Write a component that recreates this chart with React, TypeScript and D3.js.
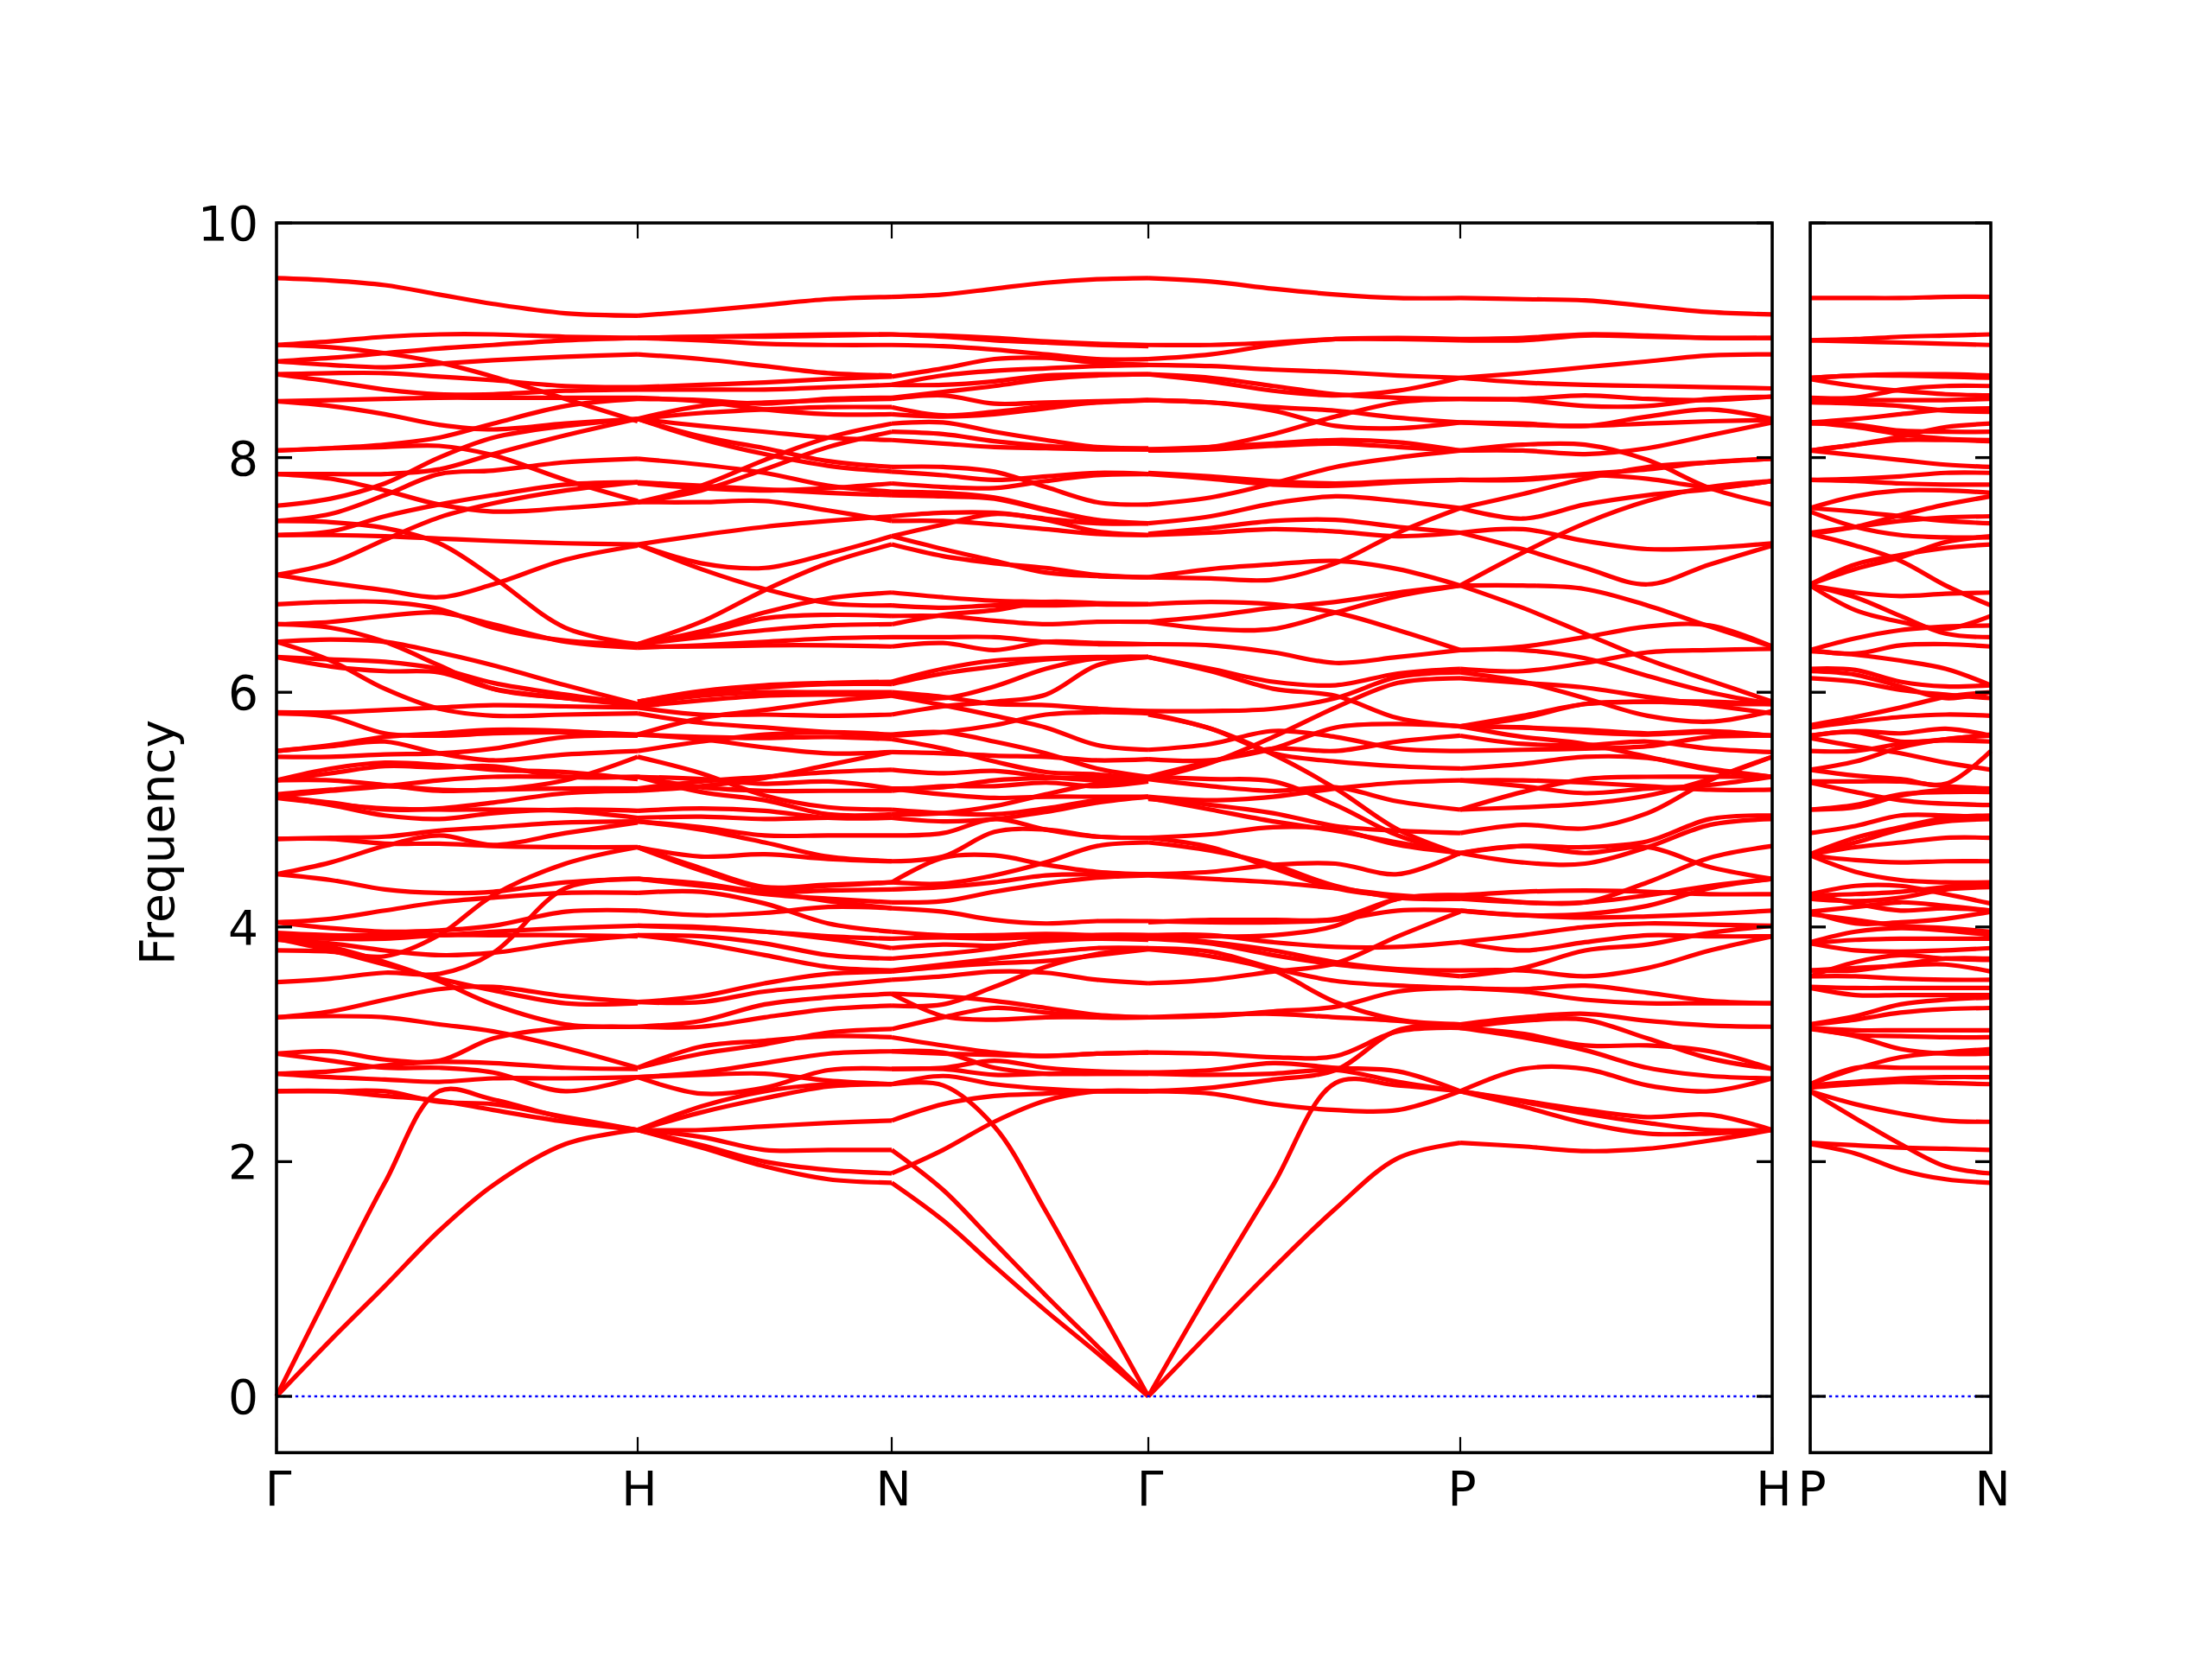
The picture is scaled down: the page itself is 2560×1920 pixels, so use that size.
import * as d3 from "d3";
import React from "react";

// high symmetry points along the path, in path units
const mainTicks = [0, 418, 712, 1009, 1370, 1731];
const mainLabels = ["Γ", "H", "N", "Γ", "P", "H"];
const sideTicks = [0, 209];
const sideLabels = ["P", "N"];
const freqTicks = [0, 2, 4, 6, 8, 10];

// sampling positions inside each path segment
const knotsGH = [0, 0.15, 0.3, 0.45, 0.6, 0.8, 1];
const knotsHN = [0, 0.25, 0.5, 0.75, 1];
const knotsNG = [0, 0.2, 0.4, 0.6, 0.8, 1];
const knotsGP = [0, 0.2, 0.4, 0.6, 0.8, 1];
const knotsPH = [0, 0.2, 0.4, 0.6, 0.8, 1];
const knotsPN = [0, 0.25, 0.5, 0.75, 1];

// phonon branches, Γ -> H
const bandsGH = [
  [9.53, 9.51, 9.47, 9.39, 9.31, 9.23, 9.21],
  [8.96, 8.99, 9.03, 9.05, 9.05, 9.03, 9.02],
  [8.82, 8.85, 8.89, 8.93, 8.96, 9.0, 9.02],
  [8.96, 8.94, 8.89, 8.81, 8.69, 8.5, 8.31],
  [8.82, 8.79, 8.77, 8.8, 8.83, 8.86, 8.88],
  [8.71, 8.72, 8.72, 8.69, 8.66, 8.61, 8.6],
  [8.71, 8.65, 8.58, 8.54, 8.54, 8.57, 8.58],
  [8.48, 8.49, 8.5, 8.51, 8.51, 8.51, 8.51],
  [8.48, 8.44, 8.37, 8.28, 8.24, 8.29, 8.33],
  [8.06, 8.08, 8.11, 8.17, 8.29, 8.44, 8.5],
  [8.06, 8.08, 8.09, 8.1, 8.02, 7.81, 7.63],
  [7.86, 7.86, 7.86, 7.9, 8.03, 8.19, 8.33],
  [7.59, 7.65, 7.78, 8.0, 8.17, 8.27, 8.33],
  [7.46, 7.52, 7.68, 7.86, 7.89, 7.96, 7.99],
  [7.86, 7.82, 7.72, 7.6, 7.54, 7.57, 7.62],
  [7.46, 7.45, 7.4, 7.27, 6.98, 6.55, 6.41],
  [7.34, 7.37, 7.5, 7.6, 7.68, 7.77, 7.79],
  [7.34, 7.34, 7.33, 7.31, 7.29, 7.27, 7.26],
  [7.0, 7.1, 7.3, 7.49, 7.61, 7.72, 7.79],
  [7.0, 6.93, 6.87, 6.81, 6.92, 7.13, 7.25],
  [6.75, 6.77, 6.77, 6.71, 6.55, 6.44, 6.41],
  [6.58, 6.6, 6.65, 6.68, 6.58, 6.43, 6.38],
  [6.43, 6.27, 6.03, 5.86, 5.8, 5.81, 5.82],
  [6.58, 6.55, 6.43, 6.23, 6.03, 5.95, 5.89],
  [6.43, 6.45, 6.43, 6.34, 6.23, 6.06, 5.9],
  [6.3, 6.28, 6.26, 6.2, 6.08, 5.98, 5.9],
  [6.3, 6.22, 6.18, 6.17, 6.03, 5.95, 5.9],
  [5.83, 5.83, 5.85, 5.87, 5.89, 5.88, 5.87],
  [5.82, 5.79, 5.65, 5.63, 5.65, 5.66, 5.64],
  [5.5, 5.55, 5.62, 5.65, 5.68, 5.67, 5.63],
  [5.45, 5.45, 5.47, 5.48, 5.52, 5.62, 5.63],
  [5.5, 5.54, 5.58, 5.48, 5.42, 5.47, 5.5],
  [5.25, 5.35, 5.4, 5.38, 5.34, 5.32, 5.26],
  [5.25, 5.31, 5.37, 5.36, 5.37, 5.28, 5.28],
  [5.13, 5.17, 5.2, 5.17, 5.17, 5.25, 5.45],
  [5.25, 5.25, 5.21, 5.16, 5.17, 5.18, 5.18],
  [5.11, 5.16, 5.2, 5.25, 5.28, 5.28, 5.28],
  [5.11, 5.06, 5.0, 5.01, 5.06, 5.14, 5.16],
  [5.11, 5.04, 4.95, 4.92, 4.97, 5.0, 4.99],
  [5.1, 5.05, 5.01, 5.0, 5.0, 4.99, 4.93],
  [4.75, 4.75, 4.71, 4.71, 4.69, 4.68, 4.68],
  [4.75, 4.76, 4.77, 4.82, 4.85, 4.89, 4.9],
  [4.45, 4.55, 4.69, 4.78, 4.7, 4.8, 4.89],
  [4.45, 4.4, 4.32, 4.29, 4.3, 4.38, 4.41],
  [3.8, 3.79, 3.75, 3.93, 4.27, 4.54, 4.68],
  [3.53, 3.56, 3.61, 3.6, 3.78, 4.33, 4.41],
  [4.04, 4.07, 4.14, 4.21, 4.25, 4.29, 4.29],
  [4.04, 3.99, 3.96, 3.97, 4.01, 4.13, 4.14],
  [3.95, 3.93, 3.93, 3.93, 3.96, 3.99, 4.01],
  [3.92, 3.9, 3.9, 3.93, 3.93, 3.93, 3.92],
  [3.89, 3.86, 3.8, 3.76, 3.78, 3.87, 3.93],
  [3.92, 3.83, 3.7, 3.54, 3.34, 3.17, 3.15],
  [3.9, 3.8, 3.68, 3.56, 3.46, 3.35, 3.35],
  [3.23, 3.28, 3.38, 3.47, 3.49, 3.41, 3.36],
  [3.23, 3.24, 3.23, 3.17, 3.11, 2.97, 2.8],
  [2.92, 2.94, 2.87, 2.86, 3.05, 3.14, 3.15],
  [2.92, 2.86, 2.8, 2.8, 2.76, 2.6, 2.72],
  [2.75, 2.77, 2.82, 2.85, 2.84, 2.8, 2.79],
  [2.75, 2.72, 2.7, 2.68, 2.71, 2.71, 2.72],
  [2.6, 2.6, 2.6, 2.51, 2.49, 2.38, 2.27],
  [2.6, 2.6, 2.56, 2.52, 2.44, 2.34, 2.27],
  [0, 0.92, 1.82, 2.6, 2.53, 2.37, 2.27],
  [0, 0.48, 0.94, 1.41, 1.8, 2.15, 2.27],
];

// H -> N
const bandsHN = [
  [9.21, 9.25, 9.3, 9.35, 9.37],
  [9.02, 9.03, 9.04, 9.05, 9.05],
  [9.02, 9.0, 8.97, 8.96, 8.96],
  [9.02, 9.03, 9.03, 9.04, 9.05],
  [8.88, 8.84, 8.78, 8.72, 8.7],
  [8.6, 8.62, 8.64, 8.67, 8.69],
  [8.58, 8.58, 8.58, 8.6, 8.62],
  [8.51, 8.48, 8.41, 8.37, 8.37],
  [8.5, 8.49, 8.46, 8.5, 8.51],
  [8.33, 8.44, 8.47, 8.49, 8.5],
  [8.33, 8.38, 8.41, 8.43, 8.43],
  [8.33, 8.18, 8.08, 7.97, 7.92],
  [8.33, 8.16, 8.03, 7.93, 7.88],
  [8.33, 8.27, 8.22, 8.17, 8.15],
  [7.62, 7.76, 7.98, 8.17, 8.29],
  [7.62, 7.72, 7.9, 8.09, 8.22],
  [7.99, 7.94, 7.87, 7.76, 7.71],
  [7.79, 7.76, 7.73, 7.7, 7.68],
  [7.78, 7.74, 7.72, 7.74, 7.78],
  [7.62, 7.62, 7.63, 7.55, 7.46],
  [7.26, 7.34, 7.41, 7.46, 7.5],
  [7.26, 7.1, 7.06, 7.18, 7.33],
  [7.26, 7.05, 6.88, 6.76, 6.74],
  [6.41, 6.6, 6.87, 7.1, 7.26],
  [6.41, 6.52, 6.68, 6.8, 6.85],
  [6.38, 6.4, 6.43, 6.46, 6.47],
  [6.41, 6.5, 6.63, 6.66, 6.65],
  [6.41, 6.47, 6.53, 6.57, 6.58],
  [6.39, 6.39, 6.4, 6.4, 6.39],
  [5.92, 6.01, 6.06, 6.08, 6.09],
  [5.92, 6.0, 6.04, 6.07, 6.07],
  [5.9, 5.97, 6.0, 6.0, 6.0],
  [5.88, 5.93, 5.97, 5.98, 5.98],
  [5.87, 5.81, 5.81, 5.8, 5.81],
  [5.82, 5.74, 5.7, 5.66, 5.63],
  [5.64, 5.78, 5.85, 5.92, 5.97],
  [5.64, 5.6, 5.53, 5.48, 5.49],
  [5.64, 5.62, 5.61, 5.62, 5.6],
  [5.5, 5.58, 5.64, 5.66, 5.64],
  [5.45, 5.31, 5.12, 5.02, 5.0],
  [5.28, 5.26, 5.22, 5.24, 5.18],
  [5.28, 5.19, 5.16, 5.16, 5.16],
  [5.28, 5.15, 5.08, 4.96, 4.96],
  [5.18, 5.24, 5.28, 5.32, 5.34],
  [5.16, 5.2, 5.27, 5.38, 5.49],
  [4.99, 5.01, 4.99, 4.93, 4.93],
  [4.93, 4.94, 4.92, 4.93, 4.93],
  [4.9, 4.85, 4.78, 4.78, 4.78],
  [4.9, 4.83, 4.72, 4.6, 4.56],
  [4.68, 4.6, 4.62, 4.58, 4.56],
  [4.68, 4.5, 4.34, 4.36, 4.38],
  [4.68, 4.48, 4.33, 4.35, 4.38],
  [4.41, 4.36, 4.28, 4.24, 4.21],
  [4.41, 4.35, 4.3, 4.22, 4.16],
  [4.41, 4.37, 4.3, 4.31, 4.32],
  [4.29, 4.3, 4.2, 4.03, 3.96],
  [4.14, 4.1, 4.12, 4.17, 4.16],
  [4.01, 4.0, 3.96, 3.9, 3.82],
  [4.01, 3.99, 3.96, 3.92, 3.9],
  [3.93, 3.92, 3.86, 3.76, 3.73],
  [3.93, 3.86, 3.76, 3.66, 3.63],
  [3.36, 3.41, 3.52, 3.6, 3.62],
  [3.36, 3.36, 3.45, 3.5, 3.55],
  [3.15, 3.2, 3.34, 3.4, 3.43],
  [3.15, 3.15, 3.23, 3.3, 3.33],
  [2.8, 2.98, 3.03, 3.07, 3.06],
  [2.8, 2.92, 3.0, 3.1, 3.13],
  [2.72, 2.58, 2.63, 2.78, 2.79],
  [2.72, 2.76, 2.84, 2.92, 2.94],
  [2.72, 2.74, 2.75, 2.69, 2.66],
  [2.27, 2.47, 2.6, 2.66, 2.66],
  [2.27, 2.42, 2.54, 2.64, 2.66],
  [2.27, 2.27, 2.3, 2.33, 2.35],
  [2.27, 2.21, 2.1, 2.1, 2.1],
  [2.27, 2.14, 2.0, 1.93, 1.9],
  [2.27, 2.12, 1.96, 1.85, 1.82],
];

// N -> Γ
const bandsNG = [
  [9.37, 9.39, 9.44, 9.49, 9.52, 9.53],
  [9.05, 9.04, 9.02, 8.99, 8.97, 8.96],
  [9.05, 9.03, 9.0, 8.98, 8.96, 8.95],
  [8.96, 8.95, 8.92, 8.88, 8.84, 8.84],
  [8.69, 8.76, 8.84, 8.85, 8.81, 8.79],
  [8.62, 8.7, 8.74, 8.76, 8.78, 8.79],
  [8.62, 8.62, 8.65, 8.7, 8.71, 8.71],
  [8.51, 8.56, 8.61, 8.67, 8.7, 8.71],
  [8.5, 8.53, 8.46, 8.47, 8.48, 8.49],
  [8.43, 8.36, 8.39, 8.44, 8.47, 8.49],
  [8.37, 8.35, 8.37, 8.42, 8.47, 8.49],
  [8.29, 8.3, 8.22, 8.15, 8.09, 8.08],
  [8.22, 8.2, 8.14, 8.1, 8.08, 8.07],
  [8.15, 8.12, 8.09, 8.08, 8.07, 8.07],
  [7.92, 7.92, 7.88, 7.75, 7.62, 7.6],
  [7.88, 7.85, 7.81, 7.84, 7.87, 7.86],
  [7.78, 7.75, 7.74, 7.8, 7.85, 7.86],
  [7.71, 7.7, 7.66, 7.56, 7.47, 7.44],
  [7.68, 7.67, 7.65, 7.55, 7.46, 7.44],
  [7.5, 7.53, 7.53, 7.48, 7.44, 7.44],
  [7.46, 7.46, 7.43, 7.39, 7.35, 7.34],
  [7.33, 7.43, 7.52, 7.47, 7.37, 7.34],
  [7.33, 7.22, 7.12, 7.02, 6.99, 6.98],
  [7.26, 7.16, 7.1, 7.06, 7.0, 6.98],
  [6.85, 6.81, 6.78, 6.77, 6.75, 6.75],
  [6.74, 6.72, 6.74, 6.74, 6.75, 6.75],
  [6.65, 6.65, 6.61, 6.58, 6.6, 6.6],
  [6.58, 6.66, 6.7, 6.77, 6.76, 6.75],
  [6.47, 6.47, 6.47, 6.43, 6.41, 6.41],
  [6.39, 6.42, 6.36, 6.43, 6.42, 6.41],
  [6.09, 6.2, 6.27, 6.29, 6.3, 6.3],
  [6.07, 6.16, 6.22, 6.28, 6.29, 6.3],
  [6.0, 5.96, 5.9, 5.89, 5.86, 5.84],
  [5.97, 5.89, 5.8, 5.7, 5.55, 5.51],
  [5.81, 5.88, 5.92, 5.98, 6.23, 6.3],
  [5.98, 5.95, 6.05, 6.2, 6.29, 6.3],
  [5.63, 5.66, 5.72, 5.81, 5.83, 5.82],
  [5.64, 5.66, 5.58, 5.48, 5.35, 5.28],
  [5.6, 5.52, 5.41, 5.32, 5.3, 5.26],
  [5.49, 5.48, 5.46, 5.45, 5.42, 5.43],
  [5.34, 5.31, 5.33, 5.28, 5.25, 5.26],
  [5.18, 5.13, 5.1, 5.11, 5.11, 5.11],
  [5.18, 5.19, 5.25, 5.27, 5.27, 5.28],
  [5.16, 5.2, 5.2, 5.23, 5.2, 5.24],
  [4.96, 4.97, 5.03, 5.13, 5.22, 5.26],
  [5.0, 4.97, 4.96, 5.01, 5.08, 5.11],
  [4.93, 4.9, 4.92, 4.98, 5.06, 5.11],
  [4.78, 4.8, 4.92, 4.83, 4.77, 4.76],
  [4.56, 4.6, 4.81, 4.83, 4.77, 4.76],
  [4.38, 4.59, 4.61, 4.53, 4.47, 4.45],
  [4.38, 4.37, 4.44, 4.55, 4.69, 4.72],
  [4.32, 4.34, 4.38, 4.44, 4.45, 4.45],
  [4.21, 4.22, 4.3, 4.37, 4.42, 4.44],
  [4.16, 4.13, 4.06, 4.03, 4.05, 4.05],
  [3.96, 3.93, 3.93, 3.94, 3.93, 3.92],
  [3.9, 3.91, 3.9, 3.92, 3.93, 3.93],
  [3.82, 3.85, 3.84, 3.88, 3.9, 3.89],
  [3.73, 3.77, 3.82, 3.9, 3.93, 3.93],
  [3.63, 3.68, 3.73, 3.78, 3.82, 3.82],
  [3.62, 3.66, 3.69, 3.71, 3.76, 3.81],
  [3.55, 3.58, 3.62, 3.61, 3.55, 3.52],
  [3.33, 3.34, 3.49, 3.66, 3.77, 3.82],
  [3.43, 3.24, 3.21, 3.23, 3.23, 3.23],
  [3.43, 3.41, 3.37, 3.31, 3.25, 3.23],
  [3.13, 3.23, 3.31, 3.27, 3.23, 3.23],
  [3.06, 2.99, 2.93, 2.9, 2.92, 2.93],
  [2.94, 2.92, 2.91, 2.9, 2.92, 2.93],
  [2.79, 2.8, 2.86, 2.8, 2.77, 2.76],
  [2.94, 2.93, 2.8, 2.75, 2.75, 2.75],
  [2.79, 2.79, 2.74, 2.75, 2.75, 2.75],
  [2.66, 2.73, 2.66, 2.62, 2.6, 2.6],
  [2.66, 2.65, 2.3, 1.58, 0.79, 0],
  [2.1, 1.76, 1.31, 0.86, 0.43, 0],
  [1.82, 1.5, 1.11, 0.73, 0.37, 0],
  [1.9, 2.1, 2.34, 2.52, 2.6, 2.6],
  [2.35, 2.49, 2.56, 2.58, 2.6, 2.6],
];

// Γ -> P
const bandsGP = [
  [9.53, 9.5, 9.44, 9.39, 9.36, 9.36],
  [8.96, 8.96, 8.98, 9.01, 9.01, 9.0],
  [8.84, 8.88, 8.96, 9.01, 9.02, 9.01],
  [8.79, 8.78, 8.75, 8.73, 8.7, 8.68],
  [8.71, 8.65, 8.57, 8.53, 8.57, 8.68],
  [8.71, 8.68, 8.61, 8.54, 8.51, 8.5],
  [8.49, 8.47, 8.4, 8.27, 8.25, 8.3],
  [8.49, 8.47, 8.43, 8.4, 8.34, 8.3],
  [8.07, 8.09, 8.2, 8.35, 8.47, 8.5],
  [8.07, 8.09, 8.12, 8.15, 8.13, 8.06],
  [8.06, 8.07, 8.1, 8.12, 8.09, 8.06],
  [7.87, 7.84, 7.8, 7.78, 7.8, 7.81],
  [7.86, 7.82, 7.77, 7.76, 7.79, 7.81],
  [7.6, 7.66, 7.78, 7.92, 8.0, 8.06],
  [7.44, 7.5, 7.61, 7.67, 7.63, 7.57],
  [7.35, 7.4, 7.46, 7.47, 7.41, 7.36],
  [7.34, 7.36, 7.39, 7.37, 7.33, 7.36],
  [6.98, 6.97, 6.96, 7.1, 7.36, 7.57],
  [6.98, 7.05, 7.09, 7.12, 7.05, 6.91],
  [6.75, 6.77, 6.75, 6.68, 6.53, 6.36],
  [6.6, 6.65, 6.72, 6.77, 6.85, 6.91],
  [6.6, 6.54, 6.54, 6.68, 6.82, 6.91],
  [6.41, 6.4, 6.34, 6.25, 6.3, 6.36],
  [6.3, 6.2, 6.09, 6.06, 6.16, 6.2],
  [6.3, 6.18, 6.03, 5.97, 5.78, 5.71],
  [5.84, 5.84, 5.86, 5.95, 6.13, 6.17],
  [5.82, 5.69, 5.48, 5.41, 5.37, 5.35],
  [5.26, 5.4, 5.62, 5.87, 6.08, 6.12],
  [5.81, 5.69, 5.47, 5.18, 4.83, 4.62],
  [5.51, 5.56, 5.67, 5.62, 5.52, 5.5],
  [5.43, 5.42, 5.52, 5.5, 5.58, 5.63],
  [5.28, 5.26, 5.24, 5.04, 4.78, 4.62],
  [5.28, 5.41, 5.52, 5.7, 5.73, 5.71],
  [5.26, 5.2, 5.16, 5.19, 5.07, 5.0],
  [5.11, 5.08, 5.11, 5.18, 5.23, 5.25],
  [5.1, 5.0, 4.9, 4.82, 4.72, 4.63],
  [5.09, 5.04, 4.97, 4.86, 4.82, 4.8],
  [4.76, 4.79, 4.85, 4.83, 4.7, 4.63],
  [4.72, 4.65, 4.53, 4.35, 4.25, 4.24],
  [4.76, 4.68, 4.5, 4.33, 4.26, 4.24],
  [4.45, 4.47, 4.53, 4.54, 4.45, 4.63],
  [4.44, 4.41, 4.38, 4.33, 4.27, 4.24],
  [4.04, 4.06, 4.06, 4.07, 4.24, 4.27],
  [4.05, 4.04, 4.04, 4.06, 4.14, 4.14],
  [3.93, 3.93, 3.87, 3.83, 3.83, 3.87],
  [3.92, 3.87, 3.8, 3.7, 3.64, 3.63],
  [3.9, 3.86, 3.76, 3.68, 3.63, 3.58],
  [3.93, 3.92, 3.93, 4.01, 4.24, 4.27],
  [3.82, 3.79, 3.65, 3.54, 3.5, 3.48],
  [3.81, 3.75, 3.63, 3.36, 3.21, 3.17],
  [3.52, 3.55, 3.62, 3.69, 3.92, 4.13],
  [3.23, 3.24, 3.28, 3.32, 3.45, 3.48],
  [3.23, 3.25, 3.26, 3.23, 3.2, 3.14],
  [2.93, 2.92, 2.89, 2.9, 3.11, 3.14],
  [2.76, 2.78, 2.84, 2.8, 2.77, 2.6],
  [2.6, 2.63, 2.7, 2.78, 3.12, 3.17],
  [2.75, 2.74, 2.75, 2.78, 2.68, 2.6],
  [2.6, 2.58, 2.49, 2.44, 2.44, 2.6],
  [0, 0.92, 1.8, 2.67, 2.65, 2.6],
  [0, 0.55, 1.09, 1.6, 2.03, 2.16],
];

// P -> H
const bandsPH = [
  [9.36, 9.35, 9.34, 9.29, 9.24, 9.22],
  [9.0, 9.0, 9.04, 9.03, 9.02, 9.02],
  [9.01, 9.02, 9.05, 9.04, 9.02, 9.02],
  [8.68, 8.72, 8.77, 8.82, 8.87, 8.88],
  [8.68, 8.64, 8.62, 8.61, 8.6, 8.59],
  [8.5, 8.5, 8.53, 8.5, 8.49, 8.52],
  [8.5, 8.49, 8.44, 8.44, 8.5, 8.52],
  [8.3, 8.29, 8.27, 8.35, 8.41, 8.33],
  [8.3, 8.28, 8.27, 8.29, 8.31, 8.32],
  [8.06, 8.06, 8.03, 8.08, 8.19, 8.3],
  [8.06, 8.11, 8.11, 7.98, 7.74, 7.6],
  [7.81, 7.82, 7.86, 7.9, 7.96, 7.99],
  [7.81, 7.81, 7.85, 7.82, 7.75, 7.8],
  [7.57, 7.69, 7.82, 7.92, 7.96, 7.99],
  [7.57, 7.48, 7.6, 7.68, 7.73, 7.8],
  [7.36, 7.39, 7.29, 7.22, 7.23, 7.27],
  [7.36, 7.22, 7.06, 6.92, 7.09, 7.25],
  [6.91, 7.19, 7.44, 7.63, 7.75, 7.8],
  [6.91, 6.91, 6.88, 6.74, 6.56, 6.39],
  [6.91, 6.72, 6.5, 6.28, 6.1, 5.92],
  [6.36, 6.39, 6.47, 6.56, 6.57, 6.39],
  [6.36, 6.36, 6.29, 6.14, 6.0, 5.9],
  [6.2, 6.18, 6.25, 6.34, 6.36, 6.37],
  [6.17, 6.09, 5.95, 5.8, 5.75, 5.84],
  [6.12, 6.08, 6.04, 5.96, 5.89, 5.82],
  [5.71, 5.78, 5.9, 5.92, 5.9, 5.9],
  [5.71, 5.7, 5.66, 5.64, 5.66, 5.63],
  [5.71, 5.7, 5.68, 5.65, 5.67, 5.63],
  [5.63, 5.56, 5.55, 5.58, 5.52, 5.49],
  [5.5, 5.51, 5.52, 5.54, 5.62, 5.63],
  [5.35, 5.39, 5.45, 5.44, 5.35, 5.28],
  [5.71, 5.62, 5.56, 5.45, 5.34, 5.28],
  [5.71, 5.8, 5.9, 5.92, 5.92, 5.9],
  [5.25, 5.25, 5.23, 5.2, 5.17, 5.17],
  [5.25, 5.2, 5.14, 5.18, 5.21, 5.28],
  [5.0, 5.15, 5.26, 5.28, 5.28, 5.28],
  [5.0, 5.02, 5.05, 5.12, 5.26, 5.45],
  [4.8, 4.87, 4.84, 4.97, 5.25, 5.45],
  [4.63, 4.69, 4.68, 4.73, 4.92, 4.95],
  [4.63, 4.55, 4.54, 4.68, 4.87, 4.92],
  [4.63, 4.69, 4.63, 4.68, 4.51, 4.41],
  [4.27, 4.3, 4.31, 4.3, 4.28, 4.28],
  [4.27, 4.21, 4.21, 4.27, 4.35, 4.41],
  [4.14, 4.1, 4.11, 4.18, 4.33, 4.41],
  [4.14, 4.1, 4.08, 4.09, 4.11, 4.14],
  [4.24, 4.21, 4.21, 4.38, 4.59, 4.69],
  [3.87, 3.93, 4.0, 4.03, 4.02, 4.01],
  [3.87, 3.8, 3.87, 3.93, 3.92, 3.92],
  [3.63, 3.63, 3.58, 3.65, 3.8, 3.92],
  [3.58, 3.65, 3.8, 3.85, 3.95, 4.01],
  [3.48, 3.45, 3.38, 3.35, 3.35, 3.35],
  [3.48, 3.47, 3.5, 3.44, 3.37, 3.35],
  [3.17, 3.23, 3.26, 3.2, 3.16, 3.15],
  [3.14, 3.2, 3.21, 3.05, 2.88, 2.79],
  [3.14, 3.09, 2.99, 2.99, 2.94, 2.79],
  [3.14, 3.06, 2.95, 2.8, 2.73, 2.71],
  [2.6, 2.79, 2.79, 2.65, 2.6, 2.71],
  [2.6, 2.52, 2.44, 2.38, 2.4, 2.27],
  [2.6, 2.47, 2.33, 2.24, 2.24, 2.27],
  [2.6, 2.51, 2.41, 2.33, 2.27, 2.27],
  [2.16, 2.13, 2.09, 2.11, 2.18, 2.27],
];

// P -> N, the detached panel
const bandsPN = [
  [9.36, 9.36, 9.36, 9.37, 9.37],
  [9.0, 9.01, 9.03, 9.04, 9.05],
  [9.0, 8.99, 8.98, 8.97, 8.96],
  [8.68, 8.7, 8.71, 8.71, 8.7],
  [8.68, 8.7, 8.7, 8.69, 8.68],
  [8.67, 8.61, 8.57, 8.54, 8.53],
  [8.51, 8.51, 8.58, 8.61, 8.61],
  [8.5, 8.49, 8.49, 8.49, 8.5],
  [8.47, 8.46, 8.44, 8.4, 8.39],
  [8.3, 8.33, 8.37, 8.41, 8.42],
  [8.3, 8.26, 8.2, 8.16, 8.15],
  [8.29, 8.28, 8.23, 8.22, 8.22],
  [8.06, 8.11, 8.18, 8.26, 8.29],
  [8.06, 8.11, 8.15, 8.15, 8.14],
  [8.06, 8.02, 7.98, 7.94, 7.92],
  [7.81, 7.82, 7.84, 7.87, 7.87],
  [7.81, 7.8, 7.78, 7.77, 7.77],
  [7.57, 7.67, 7.72, 7.72, 7.7],
  [7.57, 7.54, 7.5, 7.46, 7.44],
  [7.54, 7.41, 7.34, 7.32, 7.32],
  [7.35, 7.41, 7.51, 7.6, 7.67],
  [7.36, 7.41, 7.46, 7.49, 7.5],
  [7.35, 7.25, 7.12, 6.91, 6.74],
  [6.92, 7.09, 7.17, 7.23, 7.26],
  [6.92, 7.05, 7.15, 7.28, 7.33],
  [6.91, 6.85, 6.82, 6.84, 6.85],
  [6.91, 6.81, 6.65, 6.5, 6.47],
  [6.91, 6.7, 6.6, 6.54, 6.65],
  [6.36, 6.46, 6.53, 6.56, 6.57],
  [6.36, 6.33, 6.4, 6.41, 6.39],
  [6.35, 6.32, 6.27, 6.2, 6.06],
  [6.2, 6.19, 6.09, 6.05, 6.06],
  [6.18, 6.15, 6.05, 5.95, 6.0],
  [6.12, 6.09, 6.02, 5.98, 5.95],
  [5.72, 5.79, 5.87, 5.96, 6.0],
  [5.7, 5.75, 5.79, 5.81, 5.8],
  [5.63, 5.67, 5.65, 5.69, 5.63],
  [5.63, 5.66, 5.58, 5.59, 5.58],
  [5.61, 5.54, 5.48, 5.4, 5.34],
  [5.5, 5.5, 5.56, 5.6, 5.64],
  [5.34, 5.41, 5.53, 5.6, 5.63],
  [5.34, 5.29, 5.26, 5.22, 5.5],
  [5.24, 5.24, 5.24, 5.2, 5.18],
  [5.23, 5.15, 5.08, 5.05, 5.04],
  [5.0, 5.02, 5.12, 5.17, 5.18],
  [5.0, 5.04, 5.13, 5.15, 5.15],
  [4.8, 4.86, 4.95, 4.95, 4.93],
  [4.62, 4.76, 4.85, 4.93, 4.95],
  [4.62, 4.72, 4.83, 4.9, 4.92],
  [4.62, 4.68, 4.72, 4.76, 4.76],
  [4.61, 4.57, 4.55, 4.56, 4.56],
  [4.61, 4.47, 4.4, 4.38, 4.38],
  [4.28, 4.35, 4.35, 4.28, 4.2],
  [4.27, 4.28, 4.3, 4.34, 4.37],
  [4.24, 4.22, 4.25, 4.32, 4.34],
  [4.28, 4.2, 4.14, 4.16, 4.14],
  [4.13, 4.17, 4.21, 4.18, 4.14],
  [4.13, 4.03, 4.04, 4.07, 4.13],
  [4.11, 4.06, 4.01, 3.99, 3.96],
  [3.87, 3.96, 3.99, 3.97, 3.93],
  [3.86, 3.89, 3.9, 3.9, 3.9],
  [3.86, 3.8, 3.79, 3.8, 3.82],
  [3.58, 3.7, 3.76, 3.73, 3.72],
  [3.63, 3.63, 3.68, 3.73, 3.73],
  [3.63, 3.65, 3.67, 3.68, 3.62],
  [3.58, 3.58, 3.56, 3.55, 3.55],
  [3.49, 3.48, 3.48, 3.48, 3.48],
  [3.48, 3.42, 3.42, 3.42, 3.42],
  [3.17, 3.24, 3.34, 3.38, 3.4],
  [3.17, 3.21, 3.27, 3.3, 3.31],
  [3.14, 3.12, 3.12, 3.12, 3.12],
  [3.14, 3.08, 3.07, 3.06, 3.06],
  [3.13, 3.07, 2.96, 2.92, 2.92],
  [2.66, 2.79, 2.89, 2.93, 2.96],
  [2.66, 2.8, 2.8, 2.8, 2.8],
  [2.65, 2.68, 2.71, 2.72, 2.72],
  [2.63, 2.66, 2.68, 2.67, 2.66],
  [2.6, 2.49, 2.41, 2.35, 2.34],
  [2.6, 2.37, 2.15, 1.96, 1.9],
  [2.16, 2.14, 2.12, 2.11, 2.1],
  [2.15, 2.07, 1.93, 1.85, 1.82],
];

const yMin = -0.48;
const fontFamily = "DejaVu Sans";

// y is set by the 0 and 10 ticks, the frame goes a little below 0
const y = d3.scaleLinear().domain([0, 10]).range([1616, 258]);
const xMain = d3.scaleLinear().domain([0, 1731]).range([320, 2051]);
const xSide = d3.scaleLinear().domain([0, 209]).range([2095, 2304]);

const bandPath = (
  x: d3.ScaleLinear<number, number>,
  from: number,
  to: number,
  knots: number[],
  values: number[]
) =>
  d3
    .line<number>()
    .x((_, i) => x(from + (to - from) * knots[i]))
    .y((v) => y(v))
    .curve(d3.curveCatmullRom.alpha(0.5))(values) as string;

const segments = [
  { x: xMain, from: mainTicks[0], to: mainTicks[1], knots: knotsGH, bands: bandsGH },
  { x: xMain, from: mainTicks[1], to: mainTicks[2], knots: knotsHN, bands: bandsHN },
  { x: xMain, from: mainTicks[2], to: mainTicks[3], knots: knotsNG, bands: bandsNG },
  { x: xMain, from: mainTicks[3], to: mainTicks[4], knots: knotsGP, bands: bandsGP },
  { x: xMain, from: mainTicks[4], to: mainTicks[5], knots: knotsPH, bands: bandsPH },
  { x: xSide, from: sideTicks[0], to: sideTicks[1], knots: knotsPN, bands: bandsPN },
];

const Panel = ({ x, ticks, labels, showY }: any) => {
  const [x0, x1] = x.range();
  return (
    <g>
      {/* zero line */}
      <line x1={x0} x2={x1} y1={y(0)} y2={y(0)} stroke="#0000ff" strokeWidth={2.6} strokeDasharray="3.3 4" />
      {freqTicks.map((t) => (
        <g key={t}>
          <line x1={x0} x2={x0 + 18} y1={y(t)} y2={y(t)} stroke="#000" strokeWidth={3.3} />
          <line x1={x1} x2={x1 - 18} y1={y(t)} y2={y(t)} stroke="#000" strokeWidth={3.3} />
          {showY && (
            <text x={x0 - 21} y={y(t) + 20} textAnchor="end" fontSize={55} fontFamily={fontFamily}>
              {t}
            </text>
          )}
        </g>
      ))}
      {ticks.map((t: number, i: number) => (
        <g key={i}>
          <line x1={x(t)} x2={x(t)} y1={y(yMin)} y2={y(yMin) - 18} stroke="#000" strokeWidth={2.2} />
          <line x1={x(t)} x2={x(t)} y1={y(10)} y2={y(10) + 18} stroke="#000" strokeWidth={2.2} />
          <text x={x(t) + 2} y={1742} textAnchor="middle" fontSize={55} fontFamily={fontFamily}>
            {labels[i]}
          </text>
        </g>
      ))}
      <rect x={x0} y={y(10)} width={x1 - x0} height={y(yMin) - y(10)} fill="none" stroke="#000" strokeWidth={3.6} />
    </g>
  );
};

export default function App() {
  return (
    <svg width={2560} height={1920} style={{ position: "absolute", left: 0, top: 0, background: "#fff" }}>
      {segments.map((s, i) => (
        <g key={i} fill="none" stroke="#ff0000" strokeWidth={5.2}>
          {s.bands.map((b, j) => (
            <path key={j} d={bandPath(s.x, s.from, s.to, s.knots, b)} />
          ))}
        </g>
      ))}
      <Panel x={xMain} ticks={mainTicks} labels={mainLabels} showY />
      <Panel x={xSide} ticks={sideTicks} labels={sideLabels} showY={false} />
      <text
        transform="translate(201,975) rotate(-90)"
        textAnchor="middle"
        fontSize={55}
        fontFamily={fontFamily}
      >
        Frequency
      </text>
    </svg>
  );
}
